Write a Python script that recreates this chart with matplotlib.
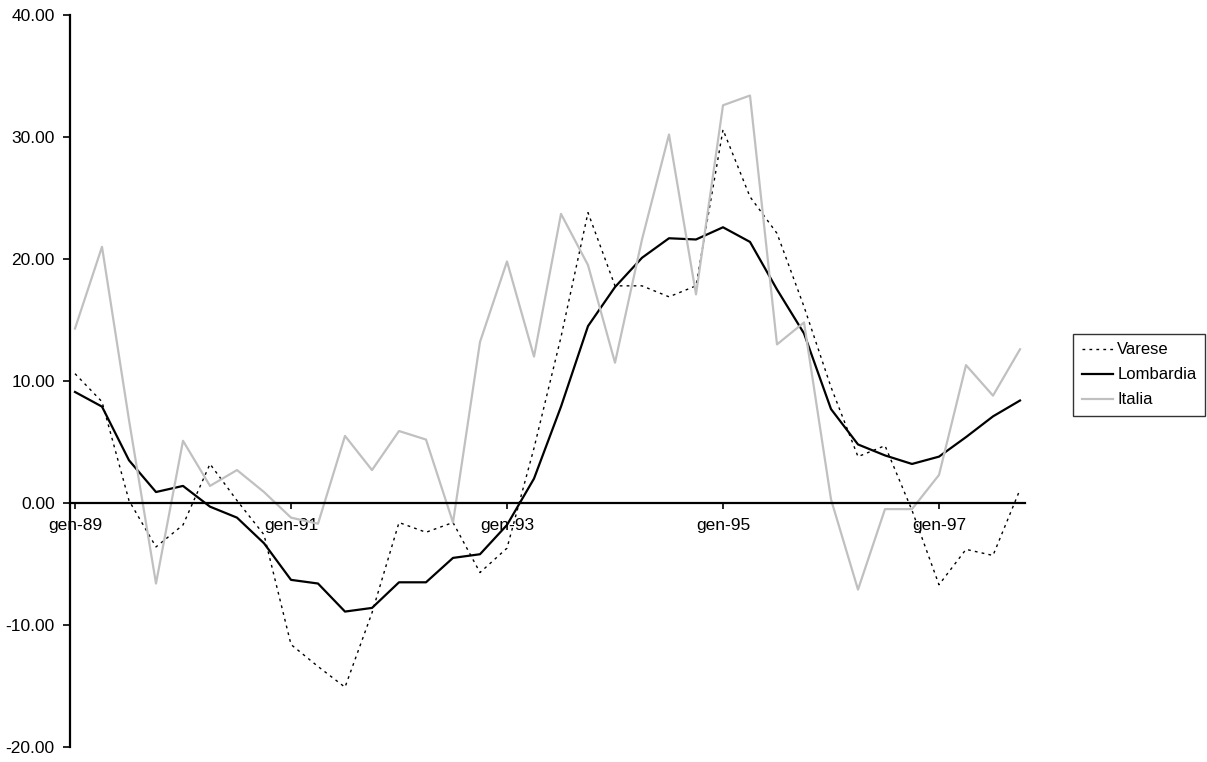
import numpy as np
import matplotlib
matplotlib.use('Agg')
import matplotlib.pyplot as plt

plt.rcParams['font.family'] = ['Liberation Sans', 'DejaVu Sans']

# quarterly series, gen-89 .. ott-97
varese = [10.6, 8.3, 0.2, -3.6, -1.8, 3.2, 0.2, -2.6, -11.6, -13.4,
          -15.1, -9.0, -1.6, -2.4, -1.6, -5.7, -3.7, 4.5, 13.6, 23.8,
          17.8, 17.8, 16.9, 17.8, 30.6, 25.1, 22.1, 16.1, 9.5, 3.8,
          4.7, -0.6, -6.7, -3.8, -4.3, 1.1]
lombardia = [9.1, 7.9, 3.5, 0.9, 1.4, -0.3, -1.2, -3.3, -6.3, -6.6,
             -8.9, -8.6, -6.5, -6.5, -4.5, -4.2, -1.8, 2.0, 7.9, 14.5,
             17.7, 20.1, 21.7, 21.6, 22.6, 21.4, 17.5, 13.9, 7.7, 4.8,
             3.9, 3.2, 3.8, 5.4, 7.1, 8.4]
italia = [14.3, 21.0, 6.8, -6.6, 5.1, 1.4, 2.7, 0.9, -1.2, -1.7,
          5.5, 2.7, 5.9, 5.2, -1.6, 13.2, 19.8, 12.0, 23.7, 19.5,
          11.5, 21.6, 30.2, 17.1, 32.6, 33.4, 13.0, 14.8, 0.3, -7.1,
          -0.5, -0.5, 2.3, 11.3, 8.8, 12.6]
tick_pos = [0, 8, 16, 24, 32]
tick_labels = ['gen-89', 'gen-91', 'gen-93', 'gen-95', 'gen-97']

x = np.arange(len(lombardia))

W, H = 1207, 762
fig = plt.figure(figsize=(W / 100, H / 100), dpi=100)
ax = fig.add_axes([70 / W, 15 / H, 955 / W, 732 / H])

ax.plot(x, varese, color='black', lw=1.0, ls=(0, (2, 3)), label='Varese')
ax.plot(x, lombardia, color='black', lw=1.6, label='Lombardia')
ax.plot(x, italia, color='#c0c0c0', lw=1.6, label='Italia')

ax.set_xlim(-5 / 27, len(x) - 1 + 5 / 27)
ax.set_ylim(-20, 40)

ax.spines['top'].set_visible(False)
ax.spines['right'].set_visible(False)
ax.spines['left'].set_linewidth(1.6)
ax.spines['bottom'].set_position(('data', 0))
ax.spines['bottom'].set_linewidth(1.6)

ax.set_yticks(np.arange(-20, 41, 10))
ax.set_yticklabels(['%.2f' % v for v in np.arange(-20, 41, 10)])
ax.set_xticks(tick_pos)
ax.set_xticklabels(tick_labels)
ax.tick_params(axis='y', direction='out', length=5, width=1.2, labelsize=12.5, pad=6)
ax.tick_params(axis='x', direction='out', length=4, width=1.2, labelsize=12.5, pad=7)

leg = fig.legend(loc='upper right', bbox_to_anchor=(1205 / W, 1 - 334 / H),
                 fontsize=12, frameon=True, fancybox=False, edgecolor='black',
                 handlelength=1.9, handletextpad=0.25, borderpad=0.5,
                 labelspacing=0.6, borderaxespad=0)
leg.get_frame().set_linewidth(1.0)

fig.savefig('out.png', dpi=100)
